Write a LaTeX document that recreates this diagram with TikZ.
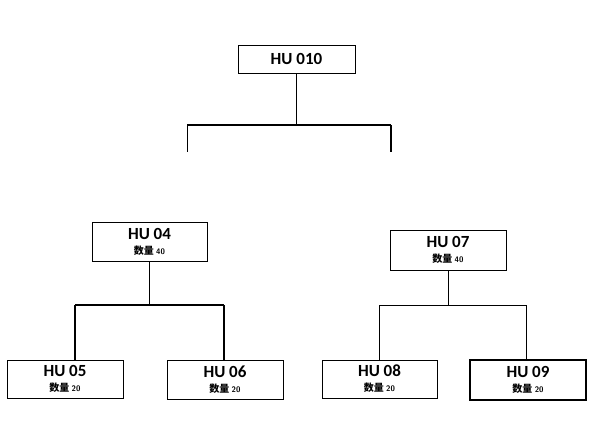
\documentclass[tikz,border=0pt]{standalone}
\usepackage{fontspec}
\setmainfont{Carlito}
\newfontfamily\cjk{Noto Sans CJK SC}
\begin{document}
\begin{tikzpicture}[x=1pt,y=-1pt,
  box/.style={draw,line width=0.8pt,inner sep=0pt,align=center,font=\bfseries\fontsize{17}{17}\selectfont},
  stem/.style={line width=0.7pt},
  bar/.style={line width=1.6pt}]
\useasboundingbox (0,0) rectangle (592,444);
\newcommand{\qty}[1]{\\[-2pt]{\cjk\bfseries\fontsize{10}{11}\selectfont 数量 }{\fontsize{8}{9}\selectfont\sffamily\bfseries #1}}
\node[box,minimum width=117pt,minimum height=28pt] (hu010) at (296.5,59) {HU 010};
\node[box,minimum width=115pt,minimum height=39pt] (hu04) at (149.5,241.5) {HU 04\qty{40}};
\node[box,minimum width=116pt,minimum height=40pt] (hu07) at (448,250) {HU 07\qty{40}};
\node[box,minimum width=116pt,minimum height=38pt] (hu05) at (65,379) {HU 05\qty{20}};
\node[box,minimum width=116pt,minimum height=39pt] (hu06) at (225,379.5) {HU 06\qty{20}};
\node[box,minimum width=115pt,minimum height=38pt] (hu08) at (379.5,379) {HU 08\qty{20}};
\node[box,line width=1.4pt,minimum width=116pt,minimum height=40pt] (hu09) at (528,380) {HU 09\qty{20}};
% top level
\coordinate (t) at (296.5,125);
\coordinate (tl) at (187,125);
\coordinate (tr) at (391,125);
\coordinate (tle) at (187,152);
\coordinate (tre) at (391,152);
\draw[stem] (hu010.south) -- (t);
\draw[bar] (tl) -- (tr);
\draw[stem] (tl) -- (tle);
\draw[bar] (tr) -- (tre);
% left group
\coordinate (l) at (149.5,305);
\coordinate (ll) at (75,305);
\coordinate (lr) at (224,305);
\draw[stem] (hu04.south) -- (l);
\draw[bar] (ll) -- (lr);
\draw[bar] (ll) -- (ll |- hu05.north);
\draw[bar] (lr) -- (lr |- hu06.north);
% right group
\coordinate (r) at (448,305);
\coordinate (rl) at (379.5,305);
\coordinate (rr) at (526,305);
\draw[stem] (hu07.south) -- (r);
\draw[stem] (rl) -- (rr);
\draw[bar] (rl) -- (rl |- hu08.north);
\draw[stem] (rr) -- (rr |- hu09.north);
\end{tikzpicture}
\end{document}
